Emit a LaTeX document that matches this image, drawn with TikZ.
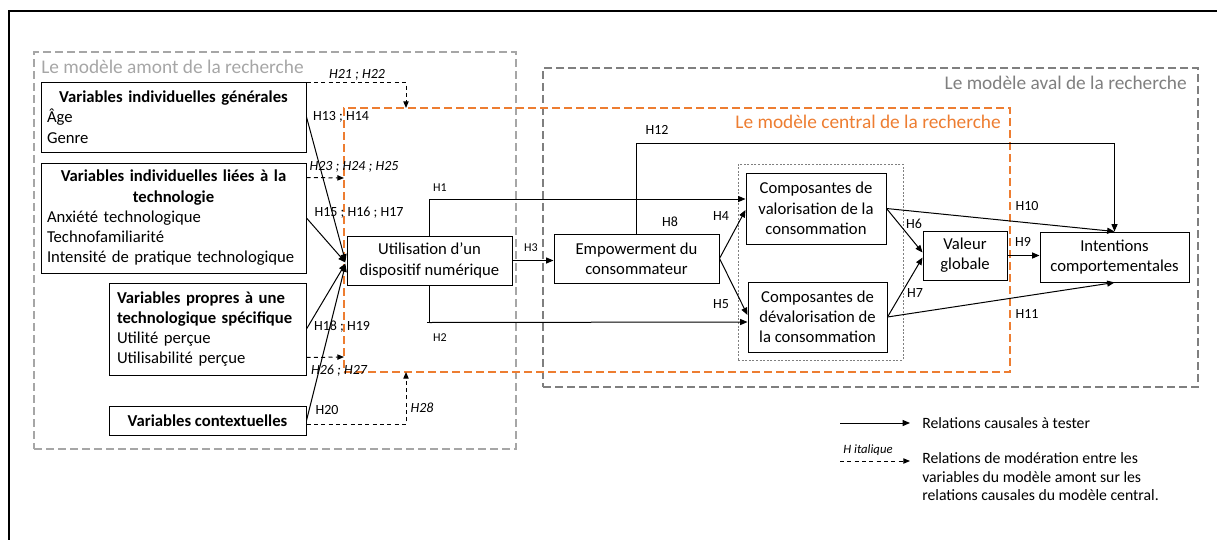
\documentclass[tikz,border=0pt]{standalone}
\usepackage{fontspec}
\setmainfont{Carlito}
\usetikzlibrary{arrows.meta,fit,calc}
\definecolor{orangeC}{HTML}{ED7D31}
\definecolor{grayA}{HTML}{A6A6A6}
\definecolor{grayB}{HTML}{7F7F7F}
\begin{document}
\begin{tikzpicture}[x=0.75pt,y=-0.75pt,
  box/.style={draw, line width=0.75pt, inner sep=0pt, font=\fontsize{12.5}{15.2}\selectfont},
  causal/.style={line width=0.75pt, -{Triangle[length=5.5pt,width=4.5pt]}},
  moder/.style={line width=0.75pt, dash pattern=on 3pt off 2.5pt, -{Triangle[length=5pt,width=4pt]}},
  hlab/.style={font=\fontsize{10.5}{12}\selectfont, inner sep=0pt},
  hsmall/.style={font=\fontsize{9}{11}\selectfont, inner sep=0pt},
  hital/.style={font=\fontsize{10.5}{12}\selectfont\itshape, inner sep=0pt},
  zone/.style={line width=1.9pt, dash pattern=on 6pt off 3pt, inner sep=0pt},
  ztitle/.style={font=\fontsize{14.5}{17}\selectfont, inner sep=0pt, anchor=base west},
  leg/.style={font=\fontsize{11.8}{13.9}\selectfont, inner sep=0pt, align=left},
]
\useasboundingbox (0,0) rectangle (1217,539);
% outer frame
\draw[line width=1.5pt] (9,560) -- (9,11) -- (1240,11);

% zones
\node[zone, draw=grayA, fit={(34,52)(516,449)}] (amont) {};
\node[zone, draw=grayB, fit={(543,68)(1198,387)}] (aval) {};
\node[zone, draw=orangeC, fit={(344,108)(1010,372)}] (central) {};
\node[draw=grayB, line width=0.5pt, dash pattern=on 1.5pt off 1.2pt, inner sep=0pt, fit={(738,164)(903,360)}] (grp) {};

\node[ztitle, text=grayA] (tamont) at (41,73) {Le modèle amont de la recherche};
\node[ztitle, text=grayB, anchor=base east] (taval) at (1187,89) {Le modèle aval de la recherche};
\node[ztitle, text=orangeC, anchor=base east] (tcentral) at (1001,128) {Le modèle central de la recherche};

% boxes
\node[box, minimum width=198.75pt, minimum height=52.5pt, align=left, text width=189.75pt] (vig) at (173.5,117)
 {\hfill\textbf{Variables individuelles générales}\hfill\null\\Âge\\Genre};
\node[box, minimum width=198.75pt, minimum height=82.5pt, align=left, text width=189.75pt] (vit) at (173.5,218)
 {\hfill\textbf{Variables individuelles liées à la}\hfill\null\\\hfill\textbf{technologie}\hfill\null\\Anxiété technologique\\Technofamiliarité\\Intensité de pratique technologique};
\node[box, minimum width=147.75pt, minimum height=69pt, align=left, text width=135.75pt] (vpt) at (207.5,329)
 {\textbf{Variables propres à une}\\\textbf{technologique spécifique}\\Utilité perçue\\Utilisabilité perçue};
\node[box, minimum width=147.75pt, minimum height=21.75pt] (vc) at (207.5,420.5) {\textbf{Variables contextuelles}};

\node[box, minimum width=123.75pt, minimum height=36.75pt, align=center] (util) at (429.5,260.5) {Utilisation d’un\\dispositif numérique};
\node[box, minimum width=123.75pt, minimum height=36.75pt, align=center] (emp) at (636.5,258.5) {Empowerment du\\consommateur};
\node[box, minimum width=105pt, minimum height=53.25pt, align=center] (cv) at (816,208.5) {Composantes de\\valorisation de la\\consommation};
\node[box, minimum width=104.25pt, minimum height=52.5pt, align=center] (cd) at (817.5,317) {Composantes de\\dévalorisation de\\la consommation};
\node[box, minimum width=63pt, minimum height=36.75pt, align=center] (vg) at (965,255.5) {Valeur\\globale};
\node[box, minimum width=111.75pt, minimum height=37.5pt, align=center] (ic) at (1114.5,257) {Intentions\\comportementales};

% causal links from upstream variables
\draw[causal] (vig.east) -- ($(util.west)+(-1,1)$);
\draw[causal] (vit.east) -- ($(util.west)+(-1,2)$);
\draw[causal] (vpt.east) -- ($(util.west)+(-1,3)$);
\draw[causal] (vc.east) -- ($(util.west)+(-1,4)$);
\node[hlab] (l1314) at (341,117) {H13 ; H14};
\node[hlab] (l151617) at (359,213) {H15 ; H16 ; H17};
\node[hlab] (l1819) at (342,327) {H18 ; H19};
\node[hlab] (l20) at (327,410) {H20};

% moderation links
\coordinate (m1) at (406,108);
\coordinate (m2) at (344,178);
\coordinate (m3) at (344,357);
\coordinate (m4) at (406,372);
\draw[moder] ($(vig.north east)+(0,1)$) -| (m1);
\draw[moder] ($(vit.north east)+(0,15)$) -- (m2);
\draw[moder] ($(vpt.south east)+(0,-18)$) -- (m3);
\draw[moder] ($(vc.south east)+(0,-11)$) -| (m4);
\node[hital] (l2122) at (357,75) {H21 ; H22};
\node[hital] (l232425) at (354,167) {H23 ; H24 ; H25};
\node[hital] (l2627) at (339,371) {H26 ; H27};
\node[hital] (l28) at (422,408) {H28};

% central model links
\coordinate (h12y) at (0,143);
\draw[causal] (util.north) |- ($(cv.west)+(0,-9.5)$);
\draw[line width=0.75pt] (util.south) -- ++(0,37) -- ++(-3,0);
\draw[causal] ($(util.south)+(0,37)$) -- ($(cd.west)+(0,5)$);
\draw[causal] (util.east) -- (emp.west |- util.east);
\draw[causal] (emp.east) -- ($(cv.west)+(0,1.5)$);
\draw[causal] (emp.east) -- ($(cd.west)+(0,-2)$);
\draw[causal] (cv.east) -- ($(vg.west)+(0,-3)$);
\draw[causal] (cd.east) -- ($(vg.west)+(0,2)$);
\draw[causal] (vg.east) -- (ic.west |- vg.east);
\draw[causal] (cv.east) -- (ic.north);
\draw[causal] (cd.east) -- (ic.south);
\draw[causal] (emp.north) -- (emp.north |- h12y) -| (ic.north);

\node[hsmall] (h1) at (440,188) {H1};
\node[hsmall] (h2) at (440,338) {H2};
\node[hsmall] (h3) at (531,248) {H3};
\node[hlab] (h4) at (721,216) {H4};
\node[hlab] (h5) at (721,304) {H5};
\node[hlab] (h6) at (914,224) {H6};
\node[hlab] (h7) at (915,293) {H7};
\node[hlab] (h8) at (670,222) {H8};
\node[hlab] (h9) at (1023,242) {H9};
\node[hlab] (h10) at (1027,206) {H10};
\node[hlab] (h11) at (1027,314) {H11};
\node[hlab] (h12) at (657,130) {H12};

% legend
\coordinate (la1) at (840,423);
\coordinate (lb1) at (910,423);
\coordinate (la2) at (840,461);
\coordinate (lb2) at (910,461);
\draw[causal] (la1) -- (lb1);
\draw[moder] (la2) -- (lb2);
\node[leg, anchor=west] (leg1) at (922,423) {Relations causales à tester};
\node[font=\fontsize{9.5}{11}\selectfont\itshape, inner sep=0pt] (legh) at (868,450) {H italique};
\node[leg, anchor=west] (leg2) at (922,477) {Relations de modération entre les\\variables du modèle amont sur les\\relations causales du modèle central.};
\end{tikzpicture}
\end{document}
